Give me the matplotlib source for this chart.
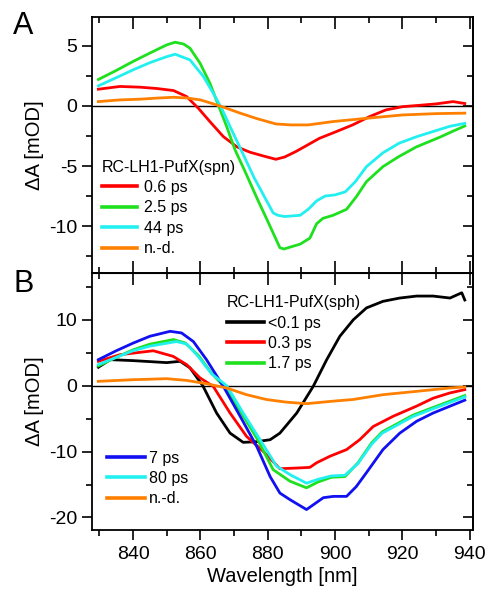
import matplotlib
matplotlib.use("Agg")
import matplotlib.pyplot as plt
from matplotlib.ticker import MultipleLocator
from matplotlib.lines import Line2D

plt.rcParams['font.family'] = ['Liberation Sans', 'DejaVu Sans']
plt.rcParams['axes.unicode_minus'] = False

# --------------------------------------------------------------------------
# Data, panel A : RC-LH1-PufX(spn)
# --------------------------------------------------------------------------

a_red_x = [829.7, 836.1, 842.1, 847, 852, 855.9, 859.4, 862.8, 866.8, 870.8, 874.7,
           878.5, 882.4, 885, 888.3, 891.5, 895.3, 900.3, 905.2, 910.2, 915.1, 920.1, 925,
           930, 935, 938.5]
a_red_y = [1.39, 1.62, 1.56, 1.45, 1.28, 0.78, -0.2, -1.3, -2.55, -3.4, -3.85,
           -4.15, -4.44, -4.25, -3.8, -3.3, -2.7, -2.14, -1.58, -0.89, -0.33, -0.06, 0.05,
           0.17, 0.36, 0.2]

a_green_x = [829.7, 835, 840, 845, 850, 852.5, 855, 856.9, 859.9, 862.8, 865.3, 867.8,
             870.3, 873, 877, 880, 883.6, 884.8, 889.6, 892.5, 894.5, 896.4, 899.4, 903.4,
             906.3, 909.3, 914.2, 919, 924.2, 931.1, 935, 938.5]
a_green_y = [2.2, 2.95, 3.7, 4.4, 5.08, 5.3, 5.15, 4.8, 3.55, 1.9, 0.08, -1.72,
             -3.67, -5.3, -7.8, -9.6, -11.8, -11.9, -11.5, -11.0, -9.8, -9.35, -9.1, -8.6,
             -7.55, -6.3, -5.05, -4.2, -3.4, -2.6, -2.1, -1.67]

a_cyan_x = [829.7, 835, 840, 845, 850, 852.5, 856.9, 860.9, 863.8, 866.3, 868.8, 871.8,
            876, 881.6, 883, 885, 889.6, 892, 894.5, 897, 900, 903, 906, 909.3, 914.2, 919,
            924.2, 930, 934, 938.5]
a_cyan_y = [1.67, 2.35, 3.0, 3.6, 4.1, 4.3, 3.83, 2.44, 1.06, -0.2, -1.72, -3.5,
            -6.0, -8.9, -9.1, -9.2, -9.1, -8.6, -7.9, -7.5, -7.4, -7.15, -6.3, -5.05, -3.9,
            -3.1, -2.56, -2.05, -1.7, -1.45]

a_orange_x = [829.7, 836, 842, 847, 852, 856, 860, 863.5, 866.8, 871.8, 876.7, 882.4, 887,
              892, 899.4, 909.3, 920, 930, 938.5]
a_orange_y = [0.36, 0.5, 0.56, 0.65, 0.72, 0.66, 0.5, 0.2, -0.1, -0.6, -1.05, -1.5, -1.58,
              -1.58, -1.3, -1.03, -0.75, -0.64, -0.6]

a_labels = ["0.6 ps", "2.5 ps", "44 ps", "n.-d."]

# --------------------------------------------------------------------------
# Panel B : RC-LH1-PufX(sph)
# --------------------------------------------------------------------------

b_black_x = [829.7, 833.2, 840.1, 850, 854, 856.9, 860.7, 864.8, 868.8, 872.7, 876.7,
             880.7, 883.6, 888.6, 893.5, 897.5, 901.4, 905.4, 909.3, 914.2, 919.2, 924.2,
             929.1, 934.1, 937.6, 938.5]
b_black_y = [2.8, 3.95, 3.8, 3.5, 3.7, 2.7, 0.0, -4.15, -7.2, -8.6, -8.5, -8.2, -7.2,
             -4.15, -0.1, 3.95, 7.5, 10.0, 11.8, 12.8, 13.3, 13.6, 13.6, 13.3, 14.1, 13.0]

b_red_x = [829.7, 836.1, 846, 851.9, 855.9, 859.9, 863.8, 868.8, 873.7, 878.7, 883.6,
           888.6, 892.5, 894.5, 898.5, 903.4, 907.3, 911.3, 917.2, 924.2, 929.1, 934.1,
           938.5]
b_red_y = [3.7, 4.7, 5.3, 4.45, 3.2, 1.17, -0.1, -4.15, -7.7, -10.0, -12.6, -12.5,
           -12.4, -11.7, -10.7, -9.7, -8.2, -6.2, -4.65, -3.1, -1.9, -1.1, -0.6]

b_green_x = [829.7, 835, 840.1, 845, 852, 855.4, 859.4, 863.3, 867.3, 872, 877, 881.6,
             886.6, 891.5, 895, 898.9, 902.9, 906.8, 910.8, 914, 918.7, 923, 928.6, 938.5]
b_green_y = [3.0, 4.3, 5.46, 6.3, 7.0, 6.5, 4.6, 1.9, -0.3, -4.0, -8.2, -12.75, -14.5,
             -15.5, -14.6, -13.9, -13.8, -11.7, -8.7, -7.0, -5.7, -4.5, -3.4, -1.5]

b_blue_x = [829.7, 835, 840.1, 845, 851, 854.4, 857.9, 861.8, 866.8, 871.8, 876.7, 880.7,
            883.6, 886.6, 891.5, 896.5, 899.5, 903.4, 906.3, 909.3, 914.2, 919.2, 924.2,
            929.1, 938.5]
b_blue_y = [3.95, 5.3, 6.48, 7.5, 8.25, 8.0, 6.7, 3.95, -0.1, -4.65, -9.2, -13.8,
            -16.3, -17.3, -18.8, -17.0, -16.8, -16.8, -15.3, -13.2, -9.7, -7.2, -5.4,
            -4.15, -2.2]

b_cyan_x = [829.7, 835, 840, 845, 852.9, 856, 859.4, 863.3, 867.8, 872.7, 877.7, 882.6,
            886.6, 891.5, 895, 898.9, 902.9, 906.8, 910.8, 914, 918.7, 923, 928.6, 938.5]
b_cyan_y = [3.2, 4.3, 5.3, 6.0, 6.7, 6.3, 4.4, 1.8, 0.0, -4.15, -8.2, -12.2, -13.5,
            -14.8, -14.2, -13.7, -13.6, -11.8, -8.9, -7.2, -5.9, -4.7, -3.6, -1.7]

b_orange_x = [829.7, 840.1, 850, 855.9, 861.8, 867.8, 873.7, 879.6, 885.5, 891.5, 899.4,
              905.3, 914.2, 924.2, 934.1, 938.5]
b_orange_y = [0.66, 0.91, 1.06, 0.8, 0.3, -0.35, -1.37, -2.1, -2.5, -2.73, -2.35, -2.1,
              -1.37, -0.86, -0.35, -0.2]

b_labels_top = ["<0.1 ps", "0.3 ps", "1.7 ps"]
b_labels_bot = ["7 ps", "80 ps", "n.-d."]

# --------------------------------------------------------------------------
# Figure
# --------------------------------------------------------------------------

c_red = "#ff0000"
c_green = "#1ee01e"
c_cyan = "#22f0f0"
c_orange = "#ff8000"
c_blue = "#1010f0"
c_black = "#000000"
lw = 2.0

fig = plt.figure(figsize=(4.88, 6.0), dpi=100)
axA = fig.add_axes([0.1885, 0.545, 0.7805, 0.4267])
axB = fig.add_axes([0.1885, 0.1167, 0.7805, 0.4283])

xlim = (827.8, 940.9)


def style_axis(ax, ymaj, ymin):
    ax.set_xlim(*xlim)
    ax.xaxis.set_major_locator(MultipleLocator(20))
    ax.xaxis.set_minor_locator(MultipleLocator(10))
    ax.yaxis.set_major_locator(MultipleLocator(ymaj))
    ax.yaxis.set_minor_locator(MultipleLocator(ymin))
    for s in ax.spines.values():
        s.set_linewidth(1.3)
    ax.tick_params(axis='y', which='both', direction='out', left=True, right=False,
                   labelsize=14, width=1.2, pad=3)
    ax.tick_params(axis='y', which='major', length=7.5)
    ax.tick_params(axis='y', which='minor', length=4.5)
    # mirrored ticks pointing inwards on the right
    sy = ax.secondary_yaxis('right')
    sy.yaxis.set_major_locator(MultipleLocator(ymaj))
    sy.yaxis.set_minor_locator(MultipleLocator(ymin))
    sy.tick_params(axis='y', which='both', direction='in', labelright=False, width=1.2)
    sy.tick_params(axis='y', which='major', length=7.5)
    sy.tick_params(axis='y', which='minor', length=4.5)
    sy.spines['right'].set_linewidth(1.3)
    ax.axhline(0, color='black', lw=1.0, zorder=1)
    ax.set_ylabel("ΔA [mOD]", fontsize=14.5, labelpad=4)


# Panel A
style_axis(axA, 5, 2.5)
axA.set_ylim(-13.9, 7.4)
axA.tick_params(axis='x', which='both', direction='in', top=True, bottom=True,
                labelbottom=False, width=1.2)
axA.tick_params(axis='x', which='major', length=8.5)
axA.tick_params(axis='x', which='minor', length=4.5)

axA.plot(a_red_x, a_red_y, color=c_red, lw=lw)
axA.plot(a_green_x, a_green_y, color=c_green, lw=lw)
axA.plot(a_cyan_x, a_cyan_y, color=c_cyan, lw=lw)
axA.plot(a_orange_x, a_orange_y, color=c_orange, lw=lw)

hA = [Line2D([], [], color=c, lw=2.6) for c in (c_red, c_green, c_cyan, c_orange)]
axA.legend(hA, a_labels, title="RC-LH1-PufX(spn)", title_fontsize=11.5, fontsize=11.5,
           frameon=False, loc='upper left', bbox_to_anchor=(0.209, 0.734),
           bbox_transform=fig.transFigure, borderpad=0, borderaxespad=0,
           handlelength=2.2, handletextpad=0.4, labelspacing=0.34,
           alignment='left')

# Panel B
style_axis(axB, 10, 5)
axB.set_ylim(-21.9, 17.1)
axB.tick_params(axis='x', which='both', direction='out', top=False, bottom=True,
                labelsize=14, width=1.2, pad=4)
axB.tick_params(axis='x', which='major', length=7.5)
axB.tick_params(axis='x', which='minor', length=4.5)
sx = axB.secondary_xaxis('top')
sx.xaxis.set_major_locator(MultipleLocator(20))
sx.xaxis.set_minor_locator(MultipleLocator(10))
sx.tick_params(axis='x', which='both', direction='in', labeltop=False, width=1.2)
sx.tick_params(axis='x', which='major', length=8.5)
sx.tick_params(axis='x', which='minor', length=4.5)
axB.set_xlabel("Wavelength [nm]", fontsize=14.5, labelpad=3)

axB.plot(b_black_x, b_black_y, color=c_black, lw=lw)
axB.plot(b_red_x, b_red_y, color=c_red, lw=lw)
axB.plot(b_green_x, b_green_y, color=c_green, lw=lw)
axB.plot(b_blue_x, b_blue_y, color=c_blue, lw=lw)
axB.plot(b_cyan_x, b_cyan_y, color=c_cyan, lw=lw)
axB.plot(b_orange_x, b_orange_y, color=c_orange, lw=lw)

hB1 = [Line2D([], [], color=c, lw=2.6) for c in (c_black, c_red, c_green)]
legB1 = axB.legend(hB1, b_labels_top, title="RC-LH1-PufX(sph)", title_fontsize=11.5,
                   fontsize=11.5, frameon=False, loc='upper left',
                   bbox_to_anchor=(0.465, 0.508), bbox_transform=fig.transFigure,
                   borderpad=0, borderaxespad=0, handlelength=2.3, handletextpad=0.25,
                   labelspacing=0.34, alignment='left')
axB.add_artist(legB1)

hB2 = [Line2D([], [], color=c, lw=2.6) for c in (c_blue, c_cyan, c_orange)]
axB.legend(hB2, b_labels_bot, fontsize=11.5, frameon=False, loc='upper left',
           bbox_to_anchor=(0.219, 0.249), bbox_transform=fig.transFigure,
           borderpad=0, borderaxespad=0, handlelength=2.4, handletextpad=0.25,
           labelspacing=0.34)

# Panel letters
fig.text(0.027, 1 - 26 / 600, "A", fontsize=22, va='center', ha='left')
fig.text(0.027, 1 - 284 / 600, "B", fontsize=22, va='center', ha='left')

fig.savefig("out.png", dpi=100)
